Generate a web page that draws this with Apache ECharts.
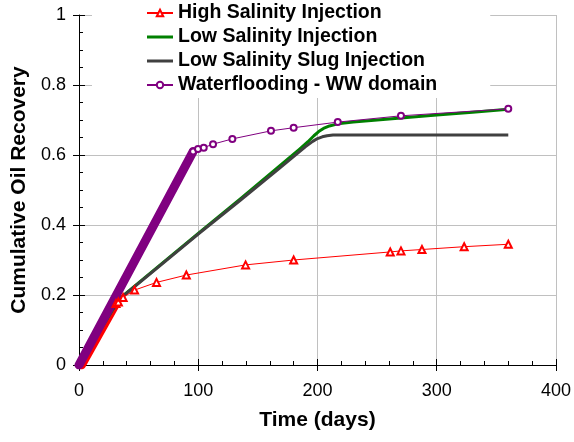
<!DOCTYPE html>
<html>
<head>
<meta charset="utf-8">
<script src="https://cdn.jsdelivr.net/npm/echarts@6/dist/echarts.min.js"></script>
<style>
html,body{margin:0;padding:0;background:#fff;}
#c{width:574px;height:442px;}
</style>
</head>
<body>
<div id="c"></div>
<script>
// ---- data (time in days, cumulative oil recovery fraction) ----
const seriesNames = ['High Salinity Injection','Low Salinity Injection','Low Salinity Slug Injection','Waterflooding - WW domain'];

// dense-marker early segments (drawn as thick bands)
const highSalDense = [[2,0],[31,0.176]];
const waterDense = [[0,0],[95.7,0.61]];

// marker series
const highSal = [[31,0.176],[33,0.180],[37,0.193],[46.6,0.214],[65,0.236],[90,0.257],[139.7,0.286],[180,0.300],[261,0.323],[270,0.326],[287.6,0.330],[323,0.338],[360,0.345]];
const waterflood = [[95.7,0.61],[99.8,0.617],[104.6,0.621],[112.4,0.631],[128.6,0.646],[161,0.669],[180,0.678],[217,0.694],[270,0.712],[360,0.732]];

// lines
const lowSal = [[0,0],[33,0.185],[37,0.198],[100,0.376],[135,0.474],[168,0.568],[185,0.617],[192,0.638],[197,0.655],[201,0.667],[205,0.676],[210,0.683],[217,0.689],[230,0.694],[250,0.700],[270,0.706],[300,0.714],[330,0.722],[360,0.731]];
const lowSalSlug = [[0,0],[33,0.185],[37,0.197],[100,0.374],[135,0.470],[168,0.562],[190,0.624],[196,0.639],[200,0.647],[204,0.652],[208,0.655],[213,0.657],[360,0.657]];

const xMin = 0, xMax = 400, xStep = 100;
const yMin = 0, yMax = 1, yStep = 0.2;

const RED = '#ff0000', GREEN = '#008000', DARK = '#404040', PURPLE = '#800080';
const FONT = 'Liberation Sans, Arial, sans-serif';
const BAR_ICON = 'path://M0,0L0.01,0L0,0.01Z M0,2.4H26V5.6H0Z M26,8L25.99,8L26,7.99Z';

const chart = echarts.init(document.getElementById('c'), null, {renderer:'canvas'});

const axisCommon = {type:'value', min:xMin, max:xMax, interval:xStep};
const option = {
  animation:false,
  backgroundColor:'#fff',
  grid:{left:79, right:17, top:15, bottom:77, containLabel:false},
  legend:{
    data:[
      {name:seriesNames[0]},
      {name:seriesNames[1], icon:BAR_ICON},
      {name:seriesNames[2], icon:BAR_ICON},
      {name:seriesNames[3]}
    ],
    orient:'vertical',
    left:92, top:0,
    padding:[1,53,1,54],
    backgroundColor:'#fff',
    itemGap:0,
    itemWidth:26, itemHeight:8,
    textStyle:{fontFamily:FONT, fontWeight:'bold', fontSize:19.5, color:'#000', lineHeight:24},
    selectedMode:false
  },
  xAxis:[
    Object.assign({}, axisCommon, {
      position:'bottom',
      name:'Time (days)', nameLocation:'middle', nameGap:45,
      nameTextStyle:{fontFamily:FONT, fontWeight:'bold', fontSize:21, color:'#000'},
      axisLine:{show:true, onZero:false, lineStyle:{color:'#000', width:1}},
      axisTick:{show:true, inside:true, length:6, lineStyle:{color:'#000'}},
      minorTick:{show:true, splitNumber:5, length:4, lineStyle:{color:'#000'}},
      axisLabel:{fontFamily:FONT, fontSize:18, color:'#000', margin:17},
      splitLine:{show:true, lineStyle:{color:'#c0c0c0', width:1}}
    }),
    Object.assign({}, axisCommon, {
      position:'bottom',
      axisLine:{show:false},
      axisTick:{show:true, inside:false, length:6, lineStyle:{color:'#000'}},
      axisLabel:{show:false},
      splitLine:{show:false}
    })
  ],
  yAxis:[
    {
      type:'value', min:yMin, max:yMax, interval:yStep, position:'left',
      name:'Cumulative Oil Recovery', nameLocation:'middle', nameGap:46,
      nameTextStyle:{fontFamily:FONT, fontWeight:'bold', fontSize:21, color:'#000'},
      axisLine:{show:true, onZero:false, lineStyle:{color:'#000', width:1}},
      axisTick:{show:true, inside:true, length:6, lineStyle:{color:'#000'}},
      minorTick:{show:true, splitNumber:4, length:4, lineStyle:{color:'#000'}},
      axisLabel:{fontFamily:FONT, fontSize:18, color:'#000', margin:13},
      splitLine:{show:true, lineStyle:{color:'#c0c0c0', width:1}}
    },
    {
      type:'value', min:yMin, max:yMax, interval:yStep, position:'left',
      axisLine:{show:false},
      axisTick:{show:true, inside:false, length:6, lineStyle:{color:'#000'}},
      axisLabel:{show:false},
      splitLine:{show:false}
    }
  ],
  series:[
    {
      name:'_hsDense', type:'line', data:highSalDense, showSymbol:false, symbol:'none',
      lineStyle:{color:RED, width:9, cap:'round'}, itemStyle:{color:RED}, silent:true
    },
    {
      name:seriesNames[1], type:'line', data:lowSal, symbol:'none',
      lineStyle:{color:GREEN, width:3, join:'round'}, itemStyle:{color:GREEN}
    },
    {
      name:seriesNames[2], type:'line', data:lowSalSlug, symbol:'none',
      lineStyle:{color:DARK, width:3, join:'round'}, itemStyle:{color:DARK}
    },
    {
      name:seriesNames[0], type:'line', data:highSal, symbol:'emptyTriangle', symbolSize:7,
      lineStyle:{color:RED, width:1}, itemStyle:{color:RED, borderColor:RED, borderWidth:1}
    },
    {
      name:'_wfDense', type:'line', data:waterDense, showSymbol:false, symbol:'none',
      lineStyle:{color:PURPLE, width:9, cap:'round'}, itemStyle:{color:PURPLE}, silent:true
    },
    {
      name:seriesNames[3], type:'line', data:waterflood, symbol:'emptyCircle', symbolSize:6,
      lineStyle:{color:PURPLE, width:1}, itemStyle:{color:PURPLE, borderColor:PURPLE, borderWidth:1}
    }
  ]
};
chart.setOption(option);
</script>
</body>
</html>
